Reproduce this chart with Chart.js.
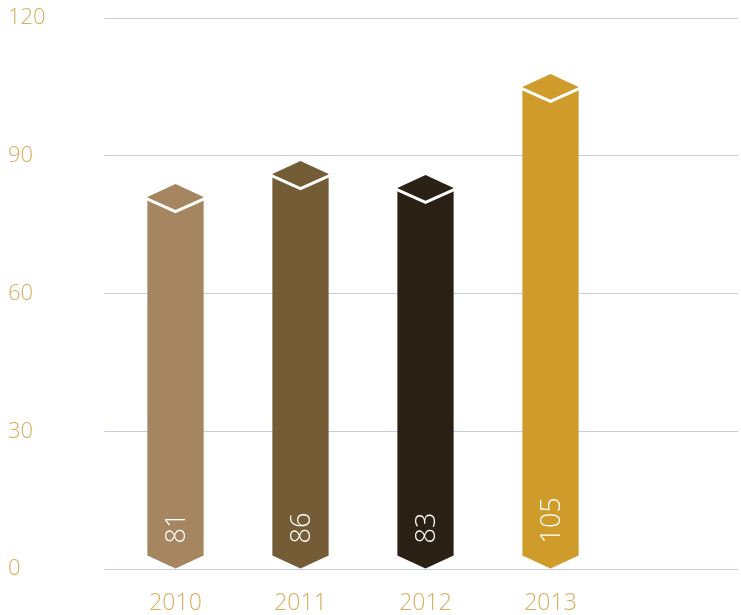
<!DOCTYPE html>
<html>
<head>
<meta charset="utf-8">
<script src="https://cdn.jsdelivr.net/npm/chart.js@4/dist/chart.umd.min.js"></script>
<style>
  html, body { margin: 0; padding: 0; background: #ffffff; }
  .container { width: 741px; height: 615px; }
</style>
</head>
<body>
<div class="container">
  <canvas id="chart"></canvas>
</div>
<script>
const years = ["2010", "2011", "2012", "2013", ""];
const values = [81, 86, 83, 105, null];
const barColors = ["#a58660", "#735c36", "#2a2013", "#cf9c2c", "#cf9c2c"];
const yTicks = [0, 30, 60, 90, 120];

const gold = "#d8ae5c";
const fontFamily = "'Open Sans', 'Lato', sans-serif";

// draws each bar as a pointed column with a diamond cap and its value written upward
const pointedBars = {
    id: "pointedBars",
    beforeDatasetDraw(chart, args) {
        const ctx = chart.ctx;
        const meta = args.meta;
        const tip = 13;
        meta.data.forEach((bar, i) => {
            const v = values[i];
            if (v == null) return;
            const { x, y, base, width } = bar.getProps(["x", "y", "base", "width"], true);
            const x0 = x - width / 2;
            const x1 = x + width / 2;

            ctx.save();
            ctx.fillStyle = barColors[i];
            ctx.beginPath();
            ctx.moveTo(x0, y);
            ctx.lineTo(x, y - tip);
            ctx.lineTo(x1, y);
            ctx.lineTo(x1, base - tip);
            ctx.lineTo(x, base);
            ctx.lineTo(x0, base - tip);
            ctx.closePath();
            ctx.fill();

            // white fold under the cap
            ctx.strokeStyle = "#ffffff";
            ctx.lineWidth = 3;
            ctx.beginPath();
            ctx.moveTo(x0 - 1, y + 1.5);
            ctx.lineTo(x, y + tip + 1.5);
            ctx.lineTo(x1 + 1, y + 1.5);
            ctx.stroke();

            // value label
            const size = 27;
            ctx.translate(x, base - 25);
            ctx.rotate(-Math.PI / 2);
            ctx.fillStyle = "#ffffff";
            ctx.font = "300 " + size + "px " + fontFamily;
            ctx.textAlign = "left";
            ctx.textBaseline = "alphabetic";
            ctx.fillText(String(v), 0, size * 0.37);
            ctx.restore();
        });
        return false;
    }
};

const ctx = document.getElementById("chart").getContext("2d");
const barChart = new Chart(ctx, {
    type: "bar",
    data: {
        labels: years,
        datasets: [
            {
                data: values,
                backgroundColor: barColors,
                borderWidth: 0,
                barPercentage: 0.45,
                categoryPercentage: 1
            }
        ]
    },
    options: {
        responsive: true,
        maintainAspectRatio: false,
        animation: false,
        layout: {
            padding: { top: 18, right: 3, bottom: 0, left: 8 }
        },
        plugins: {
            legend: { display: false },
            tooltip: { enabled: false }
        },
        scales: {
            x: {
                afterFit(scale) {
                    scale.height = 46;
                },
                grid: { display: false, drawTicks: false },
                border: { display: false },
                ticks: {
                    color: gold,
                    padding: 21,
                    font: { family: fontFamily, size: 23, weight: "300" }
                }
            },
            y: {
                min: 0,
                max: 120,
                afterFit(scale) {
                    scale.width = 105;
                },
                afterBuildTicks(scale) {
                    scale.ticks = yTicks.map(v => ({ value: v }));
                },
                grid: {
                    color: "#c6cce4",
                    lineWidth: 1,
                    drawTicks: true,
                    tickLength: 9
                },
                border: { display: false },
                ticks: {
                    color: gold,
                    crossAlign: "far",
                    font: { family: fontFamily, size: 22, weight: "300" }
                }
            }
        }
    },
    plugins: [pointedBars]
});
</script>
</body>
</html>
